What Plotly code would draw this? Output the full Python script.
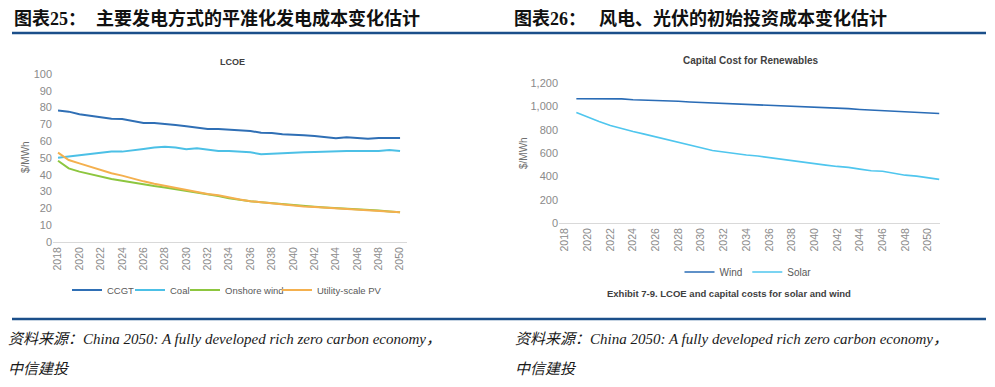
import plotly.graph_objects as go

W, H = 995, 387
def px(x): return x / W
def py(y): return 1 - y / H

# ---------------- data ----------------
lcoe_years = list(range(2018, 2051))
ccgt = [78.2, 77.6, 76.0, 75.0, 74.4, 73.3, 73.2, 72.0, 70.9, 70.8, 70.4, 69.6, 68.9, 68.2, 67.3, 67.3,
        66.9, 66.5, 66.1, 65.0, 64.9, 64.1, 63.6, 63.5, 63.1, 62.5, 61.8, 62.3, 61.9, 61.4, 61.9, 61.9, 61.9]
coal = [50.2, 51.0, 51.6, 52.2, 53.2, 53.8, 53.8, 54.4, 55.4, 56.3, 56.7, 56.3, 55.2, 55.8, 54.8, 54.2,
        54.2, 53.8, 53.4, 52.2, 52.6, 53.0, 53.2, 53.4, 53.6, 53.9, 54.2, 54.2, 54.2, 54.2, 54.2, 54.8, 54.2]
onshore_wind = [48.4, 43.8, 41.9, 40.3, 38.9, 37.5, 36.5, 35.3, 34.1, 33.3, 32.5, 31.5, 30.4, 29.6, 28.6, 27.4,
                26.0, 25.0, 24.3, 23.7, 23.1, 22.6, 22.1, 21.5, 21.0, 20.6, 20.3, 19.9, 19.5, 19.1, 18.7, 18.2, 17.7]
utility_pv = [53.2, 48.8, 46.8, 44.8, 42.9, 40.9, 39.5, 37.7, 36.1, 34.7, 33.5, 32.3, 30.8, 29.6, 28.6, 27.8,
              26.4, 25.3, 24.3, 23.6, 23.0, 22.3, 21.8, 21.2, 20.8, 20.4, 20.1, 19.7, 19.4, 19.0, 18.6, 18.2, 17.7]

cap_years = list(range(2019, 2052))
wind_cap = [1065, 1065, 1065, 1065, 1064, 1057, 1055, 1050, 1048, 1043, 1037, 1033, 1029, 1025, 1022, 1019,
            1014, 1010, 1006, 1002, 998, 994, 989, 984, 980, 973, 968, 965, 960, 955, 946, 941, 939]
solar_cap = [948, 908, 871, 836, 808, 785, 762, 738, 711, 690, 668, 645, 622, 607, 592, 583, 574, 560,
             546, 535, 522, 510, 496, 485, 477, 462, 448, 444, 425, 410, 402, 385, 374]

tick_years = list(range(2018, 2051, 2))
# (name, values, colour, legend id, legend left x in px)
left_series = [("CCGT", ccgt, "#2f6fb5", "legend", 67),
               ("Coal", coal, "#4cc0e6", "legend3", 130),
               ("Onshore wind", onshore_wind, "#8dc63f", "legend4", 185),
               ("Utility-scale PV", utility_pv, "#f4b04e", "legend5", 277)]
right_series = [("Wind", wind_cap, "#2a6cb6"), ("Solar", solar_cap, "#4fc6ee")]

# ---------------- figure ----------------
fig = go.Figure()
for name, vals, col, lg, _ in left_series:
    fig.add_trace(go.Scatter(x=lcoe_years, y=vals, name=name, mode="lines",
                             line=dict(color=col, width=2), xaxis="x", yaxis="y", legend=lg))
for name, vals, col in right_series:
    fig.add_trace(go.Scatter(x=cap_years, y=vals, name=name, mode="lines",
                             line=dict(color=col, width=1.6), xaxis="x2", yaxis="y2", legend="legend2"))

SANS = "Liberation Sans, Arial, sans-serif"
tickfont = dict(family=SANS, size=11, color="#8a8a8a")
xtickfont = dict(family=SANS, size=10.5, color="#8a8a8a")
common_x = dict(tickmode="array", tickvals=tick_years, ticktext=[str(t) for t in tick_years],
                tickangle=-90, showgrid=False, zeroline=False, showline=True, linecolor="#d9d9d9",
                linewidth=1, ticks="", tickfont=xtickfont, automargin=False)
common_y = dict(showgrid=False, zeroline=False, showline=False, ticks="", tickfont=tickfont,
                automargin=False)

legend_font = dict(family=SANS, size=9.5, color="#595959")
layout_legends = {}
for name, vals, col, lg, lx in left_series:
    layout_legends[lg] = dict(orientation="h", x=px(lx), xanchor="left", y=py(290), yanchor="middle",
                              font=legend_font, bgcolor="rgba(0,0,0,0)", itemwidth=30, tracegroupgap=0)
layout_legends["legend2"] = dict(orientation="h", x=px(748), xanchor="center", y=py(272), yanchor="middle",
                                 font=dict(family=SANS, size=10, color="#595959"),
                                 bgcolor="rgba(0,0,0,0)", itemwidth=30, tracegroupgap=0)

fig.update_layout(
    width=W, height=H, autosize=False,
    margin=dict(l=0, r=0, t=0, b=0, pad=0, autoexpand=False),
    paper_bgcolor="white", plot_bgcolor="white",
    xaxis=dict(domain=[px(53), px(407)], range=[2017.53, 2050.65], anchor="y", **common_x),
    yaxis=dict(domain=[py(242), py(74)], range=[0, 100], dtick=10, tick0=0, anchor="x", **common_y),
    xaxis2=dict(domain=[px(559), px(940)], range=[2017.47, 2051.07], anchor="y2", **common_x),
    yaxis2=dict(domain=[py(223), py(83)], range=[0, 1200], dtick=200, tick0=0, tickformat=",",
                anchor="x2", **common_y),
    showlegend=True,
    **layout_legends,
)

annos = []
cjk = "Noto Sans CJK SC"
# headers
annos.append(dict(x=px(12), y=py(17), text="<b>图表<span style='font-family:Liberation Serif'>25</span>：</b>",
                  font=dict(family=cjk, size=18, color="#111111")))
annos.append(dict(x=px(94), y=py(17), text="<b>主要发电方式的平准化发电成本变化估计</b>",
                  font=dict(family=cjk, size=18, color="#111111")))
annos.append(dict(x=px(512), y=py(17), text="<b>图表<span style='font-family:Liberation Serif'>26</span>：</b>",
                  font=dict(family=cjk, size=18, color="#111111")))
annos.append(dict(x=px(597), y=py(17), text="<b>风电、光伏的初始投资成本变化估计</b>",
                  font=dict(family=cjk, size=18, color="#111111")))
# chart titles
annos.append(dict(x=px(232), y=py(62), xanchor="center", text="<b>LCOE</b>",
                  font=dict(family=SANS, size=9, color="#404040")))
annos.append(dict(x=px(750), y=py(60), xanchor="center", text="<b>Capital Cost for Renewables</b>",
                  font=dict(family=SANS, size=10, color="#404040")))
# axis titles
annos.append(dict(x=px(25), y=py(157), xanchor="center", textangle=-90, text="$/MWh",
                  font=dict(family=SANS, size=10, color="#6f6f6f")))
annos.append(dict(x=px(523), y=py(153), xanchor="center", textangle=-90, text="$/MWh",
                  font=dict(family=SANS, size=10, color="#6f6f6f")))
# caption
annos.append(dict(x=px(605), y=py(293), text="<b>Exhibit 7-9. LCOE and capital costs for solar and wind</b>",
                  font=dict(family=SANS, size=9.5, color="#404040")))
# sources
src_font = dict(family="Liberation Serif, Noto Sans CJK SC", size=15, color="#1a1a1a")
for x0 in (6, 513):
    annos.append(dict(x=px(x0), y=py(339),
                      text="<i>资料来源：China 2050: A fully developed rich zero carbon economy，</i>",
                      font=src_font))
    annos.append(dict(x=px(x0), y=py(369), text="<i>中信建投</i>", font=src_font))

for a in annos:
    a.setdefault("xanchor", "left")
    a.update(xref="paper", yref="paper", yanchor="middle", showarrow=False)
fig.update_layout(annotations=annos)

line_col = "#1b4f8a"
fig.update_layout(shapes=[
    dict(type="line", xref="paper", yref="paper", x0=px(12), x1=px(986), y0=py(33), y1=py(33),
         line=dict(color=line_col, width=2.5)),
    dict(type="line", xref="paper", yref="paper", x0=px(12), x1=px(986), y0=py(319), y1=py(319),
         line=dict(color=line_col, width=2.5)),
])

# place the figure at the page's top-left corner (no default body margin), no mode bar
fig.write_html("out.html", config={"displayModeBar": False},
               post_script="document.body.style.margin='0';document.body.style.padding='0';")
